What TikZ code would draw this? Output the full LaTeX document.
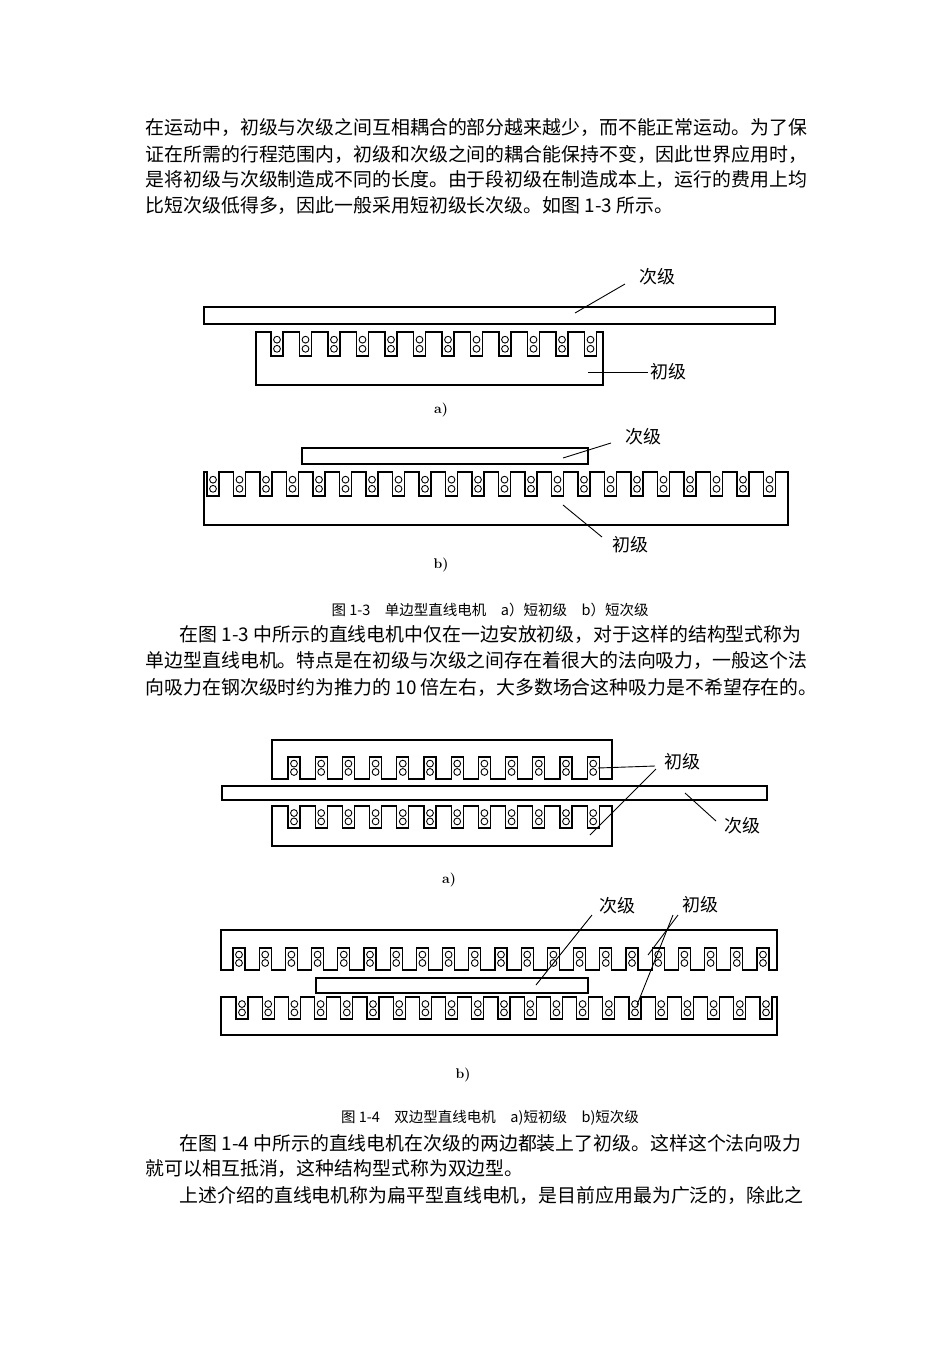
\documentclass[tikz,border=0pt]{standalone}
\usepackage{fontspec}
\newfontfamily\cjk{Noto Sans CJK SC}
\begin{document}
\begin{tikzpicture}[x=1pt,y=-1pt,line width=1.3pt,
  txt/.style={anchor=west,inner sep=0pt,font=\cjk\fontsize{18.9}{19}\selectfont},
  lab/.style={inner sep=1pt,font=\cjk\fontsize{18}{18}\selectfont},
  capt/.style={inner sep=0pt,font=\cjk\fontsize{14.5}{15}\selectfont},
  sublab/.style={inner sep=0pt,font=\bfseries\fontsize{14}{14}\selectfont},
  lead/.style={line width=0.9pt}]
\useasboundingbox (0,0) rectangle (950,1345);
% #1 xL #2 xR #3 edge #4 back #5 first #6 pitch #7 n-1 #8 depth(signed)
\newcommand\mycore[8]{%
  \draw (#1,#4) -- (#1,#3)
   \foreach \i [evaluate=\i as \s using #5+\i*#6] in {0,...,#7} { -- (\s,#3) -- (\s,#3+#8) -- (\s+12,#3+#8) -- (\s+12,#3) }
   -- (#2,#3) -- (#2,#4) -- cycle;
  \foreach \i [evaluate=\i as \s using #5+\i*#6+6] in {0,...,#7} {
    \draw[line width=0.9pt] (\s,#3+0.32*#8) circle (3.4) (\s,#3+0.7*#8) circle (3.4);}
}
% text
\node[txt] (t1) at (145,128) {在运动中，初级与次级之间互相耦合的部分越来越少，而不能正常运动。为了保};
\node[txt] (t2) at (145,154) {证在所需的行程范围内，初级和次级之间的耦合能保持不变，因此世界应用时，};
\node[txt] (t3) at (145,180) {是将初级与次级制造成不同的长度。由于段初级在制造成本上，运行的费用上均};
\node[txt] (t4) at (145,206) {比短次级低得多，因此一般采用短初级长次级。如图 1-3 所示。};
% fig 1-3a
\draw (204,307) rectangle (775,324);
\mycore{256}{603}{332}{385}{271}{28.5}{11}{24}
\node[lab] (l1) at (657,277) {次级};
\node[lab] (l2) at (668,372) {初级};
\coordinate (c1) at (575,313); \coordinate (c2) at (588,372);
\draw[lead] (c1) -- (625,284); \draw[lead] (c2) -- (l2.west);
\node[sublab] (sa) at (441,410) {a)};
% fig 1-3b
\draw (302,448) rectangle (588,464);
\mycore{204}{788}{472}{525}{207}{26.5}{21}{24}
\node[lab] (l3) at (643,437) {次级};
\node[lab] (l4) at (630,545) {初级};
\coordinate (c3) at (563,458); \coordinate (c4) at (563,505);
\draw[lead] (c3) -- (611,443); \draw[lead] (c4) -- (602,537);
\node[sublab] (sb) at (441,565) {b)};
\node[capt] (cap1) at (490,610) {图 1-3\quad 单边型直线电机\quad a）短初级\quad b）短次级};
\node[txt] (p1) at (179,635) {在图 1-3 中所示的直线电机中仅在一边安放初级，对于这样的结构型式称为};
\node[txt] (p2) at (145,661) {单边型直线电机。特点是在初级与次级之间存在着很大的法向吸力，一般这个法};
\node[txt] (p3) at (145,687) {向吸力在钢次级时约为推力的 10 倍左右，大多数场合这种吸力是不希望存在的。};
% fig 1-4a
\mycore{272}{612}{779}{740}{288}{27.2}{11}{-22}
\draw (222,786) rectangle (767,800);
\mycore{272}{612}{806}{846}{288}{27.2}{11}{22}
\node[lab] (l5) at (682,762) {初级};
\node[lab] (l6) at (742,826) {次级};
\coordinate (c5) at (598,768); \coordinate (c6) at (590,835); \coordinate (c7) at (685,793);
\draw[lead] (c5) -- (655,766); \draw[lead] (c6) -- (656,769); \draw[lead] (c7) -- (716,821);
\node[sublab] (sc) at (449,880) {a)};
% fig 1-4b
\mycore{221}{777}{970}{930}{233}{26.2}{20}{-22}
\draw (316,978) rectangle (588,993);
\mycore{221}{777}{997}{1035}{236}{26.2}{20}{22}
\node[lab] (l7) at (617,906) {次级};
\node[lab] (l8) at (700,905) {初级};
\coordinate (c8) at (536,985); \coordinate (c9) at (648,955); \coordinate (c10) at (637,1005);
\draw[lead] (c8) -- (592,915); \draw[lead] (c9) -- (678,915); \draw[lead] (c10) -- (673,915);
\node[sublab] (sd) at (463,1075) {b)};
\node[capt] (cap2) at (490,1118) {图 1-4\quad 双边型直线电机\quad a)短初级\quad b)短次级};
\node[txt] (q1) at (179,1143) {在图 1-4 中所示的直线电机在次级的两边都装上了初级。这样这个法向吸力};
\node[txt] (q2) at (145,1169) {就可以相互抵消，这种结构型式称为双边型。};
\node[txt] (q3) at (179,1195) {上述介绍的直线电机称为扁平型直线电机，是目前应用最为广泛的，除此之};
\end{tikzpicture}
\end{document}
